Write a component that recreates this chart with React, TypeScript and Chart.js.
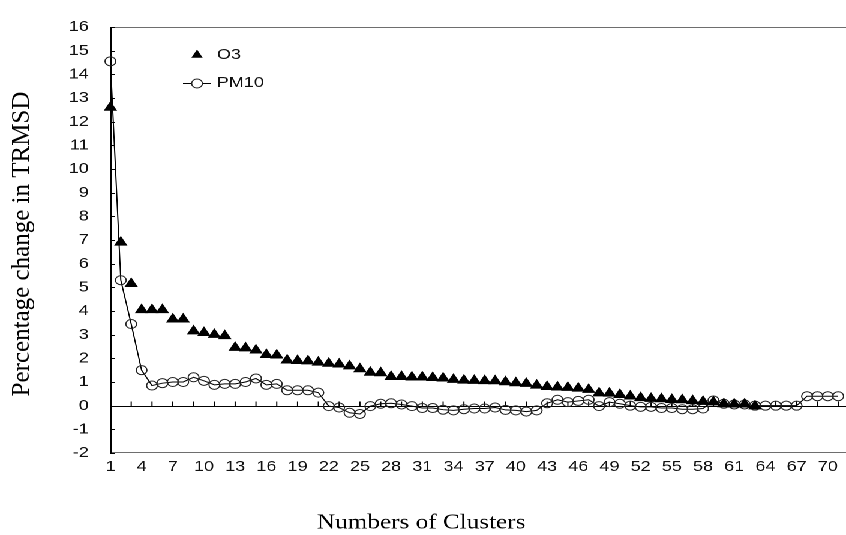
import React, { useEffect, useRef } from 'react';
import { Chart, registerables } from 'chart.js';

Chart.register(...registerables);

// ---------- data ----------
const CATEGORIES = [
  '1', '2', '3', '4', '5', '6', '7', '8', '9', '10',
  '11', '12', '13', '14', '15', '16', '17', '18', '19', '20',
  '21', '22', '23', '24', '25', '26', '27', '28', '29', '30',
  '31', '32', '33', '34', '35', '36', '37', '38', '39', '40',
  '41', '42', '43', '44', '45', '46', '47', '48', '49', '50',
  '51', '52', '53', '54', '55', '56', '57', '58', '59', '60',
  '61', '62', '63', '64', '65', '66', '67', '68', '69', '70',
  '71',
];

const O3 = [
  12.6, 6.9, 5.15, 4.05, 4.05, 4.05, 3.65, 3.65, 3.15, 3.08,
  3.0, 2.95, 2.45, 2.43, 2.34, 2.15, 2.13, 1.92, 1.9, 1.88,
  1.83, 1.78, 1.75, 1.67, 1.55, 1.4, 1.38, 1.22, 1.22, 1.2,
  1.2, 1.18, 1.16, 1.1, 1.07, 1.06, 1.05, 1.04, 1.0, 0.96,
  0.93, 0.86, 0.8, 0.78, 0.76, 0.73, 0.68, 0.53, 0.52, 0.46,
  0.4, 0.33, 0.3, 0.28, 0.25, 0.24, 0.2, 0.17, 0.15, 0.07,
  0.06, 0.06, -0.02, null, null, null, null, null, null, null,
  null,
];

const PM10 = [
  14.55, 5.3, 3.45, 1.5, 0.85, 0.95, 1.0, 1.0, 1.2, 1.05,
  0.88, 0.92, 0.92, 1.0, 1.15, 0.88, 0.92, 0.65, 0.65, 0.65,
  0.55, -0.02, -0.08, -0.3, -0.35, -0.02, 0.08, 0.1, 0.05, -0.02,
  -0.1, -0.1, -0.17, -0.2, -0.15, -0.12, -0.12, -0.08, -0.18, -0.2,
  -0.25, -0.2, 0.1, 0.25, 0.15, 0.2, 0.25, -0.02, 0.15, 0.08,
  0.0, -0.05, -0.05, -0.1, -0.1, -0.15, -0.15, -0.12, 0.22, 0.08,
  0.05, 0.05, 0.0, 0.0, 0.0, 0.0, 0.0, 0.4, 0.4, 0.4,
  0.4,
];

const SERIES_NAMES = ['O3', 'PM10'];
const Y_MIN = -2;
const Y_MAX = 16;
const Y_STEP = 1;
const X_LABEL_EVERY = 3;
const X_TICK_EVERY = 2;
const X_TITLE = 'Numbers of Clusters';
const Y_TITLE = 'Percentage change in TRMSD';

// ---------- layout (chart is drawn narrow, then stretched horizontally) ----------
const STRETCH = 1.2;
const W = 705;
const H = 535;
const TICK_FONT = '15px "Liberation Sans", Arial, sans-serif';
const X_TITLE_FONT = '21px "Liberation Serif", "Times New Roman", serif';
const Y_TITLE_FONT = '25px "Liberation Serif", "Times New Roman", serif';

function drawTriangle(ctx: CanvasRenderingContext2D, x: number, y: number, r: number) {
  ctx.beginPath();
  let a = 0;
  ctx.moveTo(x + Math.sin(a) * r, y - Math.cos(a) * r);
  a += (2 * Math.PI) / 3;
  ctx.lineTo(x + Math.sin(a) * r, y - Math.cos(a) * r);
  a += (2 * Math.PI) / 3;
  ctx.lineTo(x + Math.sin(a) * r, y - Math.cos(a) * r);
  ctx.closePath();
}

export default function App() {
  const ref = useRef<HTMLCanvasElement>(null);

  useEffect(() => {
    document.body.style.margin = '0';
    const canvas = ref.current;
    if (!canvas) return;

    const framePlugin = {
      id: 'frame',
      beforeDatasetsDraw(chart: any) {
        const { ctx, chartArea: a, scales } = chart;
        const x = scales.x;
        const y = scales.y;
        ctx.save();
        ctx.lineWidth = 1;
        ctx.strokeStyle = '#6e6e6e';
        ctx.beginPath();
        ctx.moveTo(a.left, Math.round(a.top) + 0.5);
        ctx.lineTo(W, Math.round(a.top) + 0.5);
        ctx.moveTo(a.left, Math.round(a.bottom) - 0.5);
        ctx.lineTo(W, Math.round(a.bottom) - 0.5);
        ctx.stroke();

        ctx.strokeStyle = '#000';
        ctx.beginPath();
        const lx = Math.round(a.left) + 0.5;
        ctx.moveTo(lx, a.top);
        ctx.lineTo(lx, a.bottom);
        for (let v = Y_MIN; v <= Y_MAX; v += Y_STEP) {
          const py = Math.round(y.getPixelForValue(v)) + 0.5;
          ctx.moveTo(a.left, py);
          ctx.lineTo(a.left + 4, py);
        }
        const zy = Math.round(y.getPixelForValue(0)) + 0.5;
        ctx.moveTo(a.left, zy);
        ctx.lineTo(W, zy);
        for (let i = 0; i < CATEGORIES.length; i += X_TICK_EVERY) {
          const px = x.getPixelForValue(i);
          ctx.moveTo(px, zy);
          ctx.lineTo(px, zy - 5);
        }
        ctx.stroke();
        ctx.restore();
      },
      afterDraw(chart: any) {
        const { ctx } = chart;
        const ds0 = chart.data.datasets[0];
        const ds1 = chart.data.datasets[1];
        ctx.save();
        // legend
        ctx.fillStyle = ds0.pointBackgroundColor;
        drawTriangle(ctx, 164.2, 55, ds0.pointRadius);
        ctx.fill();
        ctx.font = TICK_FONT;
        ctx.fillStyle = '#111';
        ctx.textAlign = 'left';
        ctx.textBaseline = 'middle';
        ctx.fillText(ds0.label, 180.8, 55);

        ctx.strokeStyle = ds1.borderColor;
        ctx.lineWidth = 1;
        ctx.beginPath();
        ctx.moveTo(152.5, 83.5);
        ctx.lineTo(175.8, 83.5);
        ctx.stroke();
        ctx.fillStyle = '#fff';
        ctx.strokeStyle = ds1.pointBorderColor;
        ctx.beginPath();
        ctx.arc(164.2, 83.5, ds1.pointRadius, 0, Math.PI * 2);
        ctx.fill();
        ctx.stroke();
        ctx.fillStyle = '#111';
        ctx.fillText(ds1.label, 180.8, 83);

        // axis titles
        ctx.fillStyle = '#000';
        ctx.font = X_TITLE_FONT;
        ctx.textAlign = 'center';
        ctx.fillText(X_TITLE, 351, 523);
        ctx.font = Y_TITLE_FONT;
        ctx.translate(18.3, 244);
        ctx.rotate(-Math.PI / 2);
        ctx.scale(1, 0.85);
        ctx.fillText(Y_TITLE, 0, 0);
        ctx.restore();
      },
    };

    const chart = new Chart(canvas, {
      type: 'line',
      data: {
        labels: CATEGORIES,
        datasets: [
          {
            label: SERIES_NAMES[0],
            data: O3,
            showLine: false,
            pointStyle: 'triangle',
            pointRadius: 5.5,
            pointBackgroundColor: '#000',
            pointBorderColor: '#000',
            pointBorderWidth: 1,
            borderColor: '#000',
            backgroundColor: '#000',
            order: 1,
          },
          {
            label: SERIES_NAMES[1],
            data: PM10,
            showLine: true,
            tension: 0,
            borderWidth: 1,
            borderColor: '#000',
            pointStyle: 'circle',
            pointRadius: 4.5,
            pointBackgroundColor: 'rgba(0,0,0,0)',
            pointBorderColor: '#222',
            pointBorderWidth: 1,
            backgroundColor: 'rgba(0,0,0,0)',
            fill: false,
            order: 2,
          },
        ],
      },
      options: {
        animation: false,
        responsive: true,
        maintainAspectRatio: false,
        devicePixelRatio: 2,
        layout: { padding: { top: 20, right: 3, left: 0, bottom: 0 } },
        plugins: {
          legend: { display: false },
          tooltip: { enabled: false },
          title: { display: false },
        },
        scales: {
          x: {
            type: 'category',
            offset: false,
            grid: { display: false, drawTicks: false },
            border: { display: false },
            ticks: {
              autoSkip: false,
              maxRotation: 0,
              minRotation: 0,
              padding: 5,
              color: '#111',
              font: { family: '"Liberation Sans", Arial, sans-serif', size: 15 },
              callback: function (this: any, value: any, index: number) {
                return index % X_LABEL_EVERY === 0 ? this.getLabelForValue(value) : '';
              },
            },
            afterFit: (scale: any) => {
              scale.height = 82;
            },
          },
          y: {
            type: 'linear',
            min: Y_MIN,
            max: Y_MAX,
            grid: { display: false, drawTicks: false },
            border: { display: false },
            ticks: {
              stepSize: Y_STEP,
              padding: 18,
              color: '#111',
              font: { family: '"Liberation Sans", Arial, sans-serif', size: 15 },
            },
            afterFit: (scale: any) => {
              scale.width = 92;
            },
          },
        },
      },
      plugins: [framePlugin],
    });

    return () => {
      chart.destroy();
    };
  }, []);

  return (
    <div
      style={{
        width: W,
        height: H,
        position: 'relative',
        transform: `scaleX(${STRETCH})`,
        transformOrigin: '0 0',
        background: '#fff',
      }}
    >
      <canvas ref={ref} />
    </div>
  );
}
